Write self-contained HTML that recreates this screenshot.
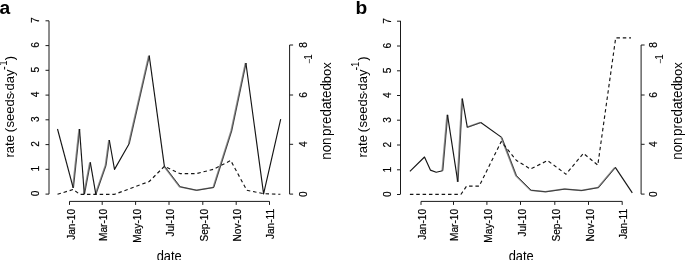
<!DOCTYPE html>
<html><head><meta charset="utf-8"><title>figure</title>
<style>
html,body{margin:0;padding:0;background:#fff;}
svg{display:block;font-family:"Liberation Sans",sans-serif;fill:#000;}

.ax{fill:none;stroke:#1a1a1a;stroke-width:1;}
.ln{fill:none;stroke:#151515;stroke-width:1.15;stroke-linejoin:round;}
.gr{fill:none;stroke:#8e8e8e;stroke-width:1.5;stroke-linejoin:round;}
.gt{fill:none;stroke:#262626;stroke-width:0.8;stroke-linejoin:round;}
.ds{stroke-dasharray:3.5 2.85;}
.tk{font-size:11.5px;stroke:#000;stroke-width:0.2px;}
</style></head><body>
<svg width="685" height="260" viewBox="0 0 685 260">
<rect width="685" height="260" fill="#fff"/>
<text x="-0.6" y="14.4" font-size="19.2" font-weight="bold">a</text>
<path d="M49,20.85V194.1M49,194.1h-3.5M49,169.3h-3.5M49,144.6h-3.5M49,119.8h-3.5M49,95.1h-3.5M49,70.3h-3.5M49,45.6h-3.5M49,20.8h-3.5" class="ax"/>
<text transform="translate(39.0,193.5) rotate(-90) scale(0.88,1)" text-anchor="middle" class="tk">0</text>
<text transform="translate(39.0,168.8) rotate(-90) scale(0.88,1)" text-anchor="middle" class="tk">1</text>
<text transform="translate(39.0,144.0) rotate(-90) scale(0.88,1)" text-anchor="middle" class="tk">2</text>
<text transform="translate(39.0,119.2) rotate(-90) scale(0.88,1)" text-anchor="middle" class="tk">3</text>
<text transform="translate(39.0,94.5) rotate(-90) scale(0.88,1)" text-anchor="middle" class="tk">4</text>
<text transform="translate(39.0,69.8) rotate(-90) scale(0.88,1)" text-anchor="middle" class="tk">5</text>
<text transform="translate(39.0,45.0) rotate(-90) scale(0.88,1)" text-anchor="middle" class="tk">6</text>
<text transform="translate(39.0,20.2) rotate(-90) scale(0.88,1)" text-anchor="middle" class="tk">7</text>
<path d="M289.6,45.0V194.1M289.6,194.1h3.5M289.6,144.3h3.5M289.6,95.0h3.5M289.6,45.0h3.5" class="ax"/>
<text transform="translate(306.5,194.1) rotate(-90) scale(0.88,1)" text-anchor="middle" class="tk">0</text>
<text transform="translate(306.5,144.3) rotate(-90) scale(0.88,1)" text-anchor="middle" class="tk">4</text>
<text transform="translate(306.5,95.0) rotate(-90) scale(0.88,1)" text-anchor="middle" class="tk">6</text>
<text transform="translate(306.5,45.0) rotate(-90) scale(0.88,1)" text-anchor="middle" class="tk">8</text>
<path d="M69.5,201.4H269.5M69.5,201.4v3.5M102.2,201.4v3.5M135.6,201.4v3.5M169.0,201.4v3.5M202.8,201.4v3.5M236.2,201.4v3.5M269.5,201.4v3.5" class="ax"/>
<text transform="translate(74.5,208.9) rotate(-90) scale(0.88,1)" text-anchor="end" class="tk">Jan-10</text>
<text transform="translate(107.2,208.9) rotate(-90) scale(0.88,1)" text-anchor="end" class="tk">Mar-10</text>
<text transform="translate(140.5,208.9) rotate(-90) scale(0.88,1)" text-anchor="end" class="tk">May-10</text>
<text transform="translate(173.9,208.9) rotate(-90) scale(0.88,1)" text-anchor="end" class="tk">Jul-10</text>
<text transform="translate(207.8,208.9) rotate(-90) scale(0.88,1)" text-anchor="end" class="tk">Sep-10</text>
<text transform="translate(241.1,208.9) rotate(-90) scale(0.88,1)" text-anchor="end" class="tk">Nov-10</text>
<text transform="translate(274.4,208.9) rotate(-90) scale(0.88,1)" text-anchor="end" class="tk">Jan-11</text>
<text transform="translate(169.2,260.5) scale(0.89,1)" text-anchor="middle" font-size="14.5">date</text>
<text transform="translate(14.3,157.5) rotate(-90) scale(0.955,1)" font-size="13.61">rate</text>
<text transform="translate(14.3,132.3) rotate(-90) scale(0.955,1)" font-size="13.61">(</text>
<text transform="translate(14.3,127.4) rotate(-90) scale(0.955,1)" font-size="13.61">seeds</text>
<text transform="translate(14.3,94.2) rotate(-90) scale(0.955,1)" font-size="13.61">·</text>
<text transform="translate(14.3,90.4) rotate(-90) scale(0.955,1)" font-size="13.61">day</text>
<text transform="translate(8.1,70.0) rotate(-90) scale(0.955,1)" font-size="12.04">-</text>
<text transform="translate(7.1,65.7) rotate(-90) scale(0.955,1)" font-size="10.05">1</text>
<text transform="translate(14.3,60.3) rotate(-90) scale(0.955,1)" font-size="13.61">)</text>
<text transform="translate(330.8,159.8) rotate(-90) scale(0.955,1)" font-size="14.03">non</text>
<text transform="translate(330.8,135.9) rotate(-90) scale(0.955,1)" font-size="14.03">predated</text>
<text transform="translate(330.8,86.2) rotate(-90) scale(0.955,1)" font-size="13.61">·</text>
<text transform="translate(330.8,83.2) rotate(-90) scale(0.955,1)" font-size="13.51">box</text>
<text transform="translate(311.9,63.8) rotate(-90) scale(0.955,1)" font-size="8.90">−</text>
<text transform="translate(311.6,59.8) rotate(-90) scale(0.955,1)" font-size="10.47">1</text>
<polyline points="73.2,187.9 79.5,129.0" class="gr" transform="translate(-0.45,0)"/>
<polyline points="73.2,187.9 79.5,129.0" class="gt" transform="translate(0.3,0)"/>
<polyline points="84.3,194.2 90.3,162.3" class="gr" transform="translate(-0.45,0)"/>
<polyline points="84.3,194.2 90.3,162.3" class="gt" transform="translate(0.3,0)"/>
<polyline points="95.8,194.2 105.8,165.5 109.3,140.0" class="gr" transform="translate(-0.45,0)"/>
<polyline points="95.8,194.2 105.8,165.5 109.3,140.0" class="gt" transform="translate(0.3,0)"/>
<polyline points="129.0,144.0 149.2,55.7" class="gr" transform="translate(-0.45,0)"/>
<polyline points="129.0,144.0 149.2,55.7" class="gt" transform="translate(0.3,0)"/>
<polyline points="164.4,166.3 180.0,186.8 196.6,190.3 213.6,187.4 231.5,131.0 245.9,63.0" class="gr" transform="translate(-0.45,0)"/>
<polyline points="164.4,166.3 180.0,186.8 196.6,190.3 213.6,187.4 231.5,131.0 245.9,63.0" class="gt" transform="translate(0.3,0)"/>
<polyline points="57.5,129.0 73.2,187.9" class="ln"/>
<polyline points="79.5,129.0 84.3,194.2" class="ln"/>
<polyline points="90.3,162.3 95.8,194.2" class="ln"/>
<polyline points="109.3,140.0 114.5,169.4 129.0,144.0" class="ln"/>
<polyline points="149.2,55.7 164.4,166.3" class="ln"/>
<polyline points="245.9,63.0 263.6,193.9 280.7,119.2" class="ln"/>
<polyline points="57.5,194.3 73.2,189.5 79.7,194.3 114.5,194.3 129.0,189.0 149.2,181.5 164.4,166.3 180.0,173.6 196.6,173.6 213.6,169.2 230.7,160.5 246.8,190.3 263.7,193.7 280.4,194.3" class="ln ds"/>
<text x="355.4" y="14.4" font-size="19.2" font-weight="bold">b</text>
<path d="M400.5,20.85V194.1M400.5,194.5h-3.5M400.5,169.8h-3.5M400.5,145.0h-3.5M400.5,120.2h-3.5M400.5,95.5h-3.5M400.5,70.8h-3.5M400.5,46.0h-3.5M400.5,21.2h-3.5" class="ax"/>
<text transform="translate(390.9,194.3) rotate(-90) scale(0.88,1)" text-anchor="middle" class="tk">0</text>
<text transform="translate(390.9,169.6) rotate(-90) scale(0.88,1)" text-anchor="middle" class="tk">1</text>
<text transform="translate(390.9,144.8) rotate(-90) scale(0.88,1)" text-anchor="middle" class="tk">2</text>
<text transform="translate(390.9,120.0) rotate(-90) scale(0.88,1)" text-anchor="middle" class="tk">3</text>
<text transform="translate(390.9,95.3) rotate(-90) scale(0.88,1)" text-anchor="middle" class="tk">4</text>
<text transform="translate(390.9,70.5) rotate(-90) scale(0.88,1)" text-anchor="middle" class="tk">5</text>
<text transform="translate(390.9,45.8) rotate(-90) scale(0.88,1)" text-anchor="middle" class="tk">6</text>
<text transform="translate(390.9,21.0) rotate(-90) scale(0.88,1)" text-anchor="middle" class="tk">7</text>
<path d="M641.1,45.0V194.1M641.1,194.1h3.5M641.1,144.3h3.5M641.1,95.0h3.5M641.1,45.0h3.5" class="ax"/>
<text transform="translate(656.8,194.1) rotate(-90) scale(0.88,1)" text-anchor="middle" class="tk">0</text>
<text transform="translate(656.8,144.3) rotate(-90) scale(0.88,1)" text-anchor="middle" class="tk">4</text>
<text transform="translate(656.8,95.0) rotate(-90) scale(0.88,1)" text-anchor="middle" class="tk">6</text>
<text transform="translate(656.8,45.0) rotate(-90) scale(0.88,1)" text-anchor="middle" class="tk">8</text>
<path d="M421.0,201.4H622.2M421.0,201.4v3.5M453.5,201.4v3.5M486.9,201.4v3.5M520.5,201.4v3.5M554.8,201.4v3.5M588.5,201.4v3.5M622.2,201.4v3.5" class="ax"/>
<text transform="translate(425.9,208.9) rotate(-90) scale(0.88,1)" text-anchor="end" class="tk">Jan-10</text>
<text transform="translate(458.4,208.9) rotate(-90) scale(0.88,1)" text-anchor="end" class="tk">Mar-10</text>
<text transform="translate(491.8,208.9) rotate(-90) scale(0.88,1)" text-anchor="end" class="tk">May-10</text>
<text transform="translate(525.5,208.9) rotate(-90) scale(0.88,1)" text-anchor="end" class="tk">Jul-10</text>
<text transform="translate(559.8,208.9) rotate(-90) scale(0.88,1)" text-anchor="end" class="tk">Sep-10</text>
<text transform="translate(593.5,208.9) rotate(-90) scale(0.88,1)" text-anchor="end" class="tk">Nov-10</text>
<text transform="translate(627.2,208.9) rotate(-90) scale(0.88,1)" text-anchor="end" class="tk">Jan-11</text>
<text transform="translate(521.2,260.5) scale(0.89,1)" text-anchor="middle" font-size="14.5">date</text>
<text transform="translate(366.6,157.5) rotate(-90) scale(0.955,1)" font-size="13.61">rate</text>
<text transform="translate(366.6,132.3) rotate(-90) scale(0.955,1)" font-size="13.61">(</text>
<text transform="translate(366.6,127.4) rotate(-90) scale(0.955,1)" font-size="13.61">seeds</text>
<text transform="translate(366.6,94.2) rotate(-90) scale(0.955,1)" font-size="13.61">·</text>
<text transform="translate(366.6,90.4) rotate(-90) scale(0.955,1)" font-size="13.61">day</text>
<text transform="translate(360.4,70.4) rotate(-90) scale(0.955,1)" font-size="12.04">-</text>
<text transform="translate(359.4,66.9) rotate(-90) scale(0.955,1)" font-size="10.05">1</text>
<text transform="translate(366.6,60.8) rotate(-90) scale(0.955,1)" font-size="13.61">)</text>
<text transform="translate(682.0,159.8) rotate(-90) scale(0.955,1)" font-size="14.03">non</text>
<text transform="translate(682.0,135.9) rotate(-90) scale(0.955,1)" font-size="14.03">predated</text>
<text transform="translate(682.0,86.2) rotate(-90) scale(0.955,1)" font-size="13.61">·</text>
<text transform="translate(682.0,83.2) rotate(-90) scale(0.955,1)" font-size="13.51">box</text>
<text transform="translate(663.4,63.8) rotate(-90) scale(0.955,1)" font-size="8.90">−</text>
<text transform="translate(663.1,59.8) rotate(-90) scale(0.955,1)" font-size="10.47">1</text>
<polyline points="442.6,170.7 447.5,114.8" class="gr" transform="translate(-0.45,0)"/>
<polyline points="442.6,170.7 447.5,114.8" class="gt" transform="translate(0.3,0)"/>
<polyline points="457.8,181.8 462.3,98.6" class="gr" transform="translate(-0.45,0)"/>
<polyline points="457.8,181.8 462.3,98.6" class="gt" transform="translate(0.3,0)"/>
<polyline points="467.3,127.3 480.8,122.5" class="gr" transform="translate(-0.45,0)"/>
<polyline points="467.3,127.3 480.8,122.5" class="gt" transform="translate(0.3,0)"/>
<polyline points="501.6,137.4 516.3,175.7 531.0,190.3 545.6,191.8 564.6,189.1 581.7,190.5 598.4,187.6 615.3,167.4" class="gr" transform="translate(-0.45,0)"/>
<polyline points="501.6,137.4 516.3,175.7 531.0,190.3 545.6,191.8 564.6,189.1 581.7,190.5 598.4,187.6 615.3,167.4" class="gt" transform="translate(0.3,0)"/>
<polyline points="409.9,171.3 424.5,157.0 430.4,170.1 436.2,172.2 442.6,170.7" class="ln"/>
<polyline points="447.5,114.8 457.8,181.8" class="ln"/>
<polyline points="462.3,98.6 467.3,127.3" class="ln"/>
<polyline points="480.8,122.5 501.6,137.4" class="ln"/>
<polyline points="615.3,167.4 632.3,192.9" class="ln"/>
<polyline points="409.9,194.3 461.0,194.3 466.6,186.1 479.2,186.1 501.2,141.6 516.5,160.5 530.3,169.0 547.6,160.6 566.0,174.2 583.4,153.3 597.8,165.1 615.7,37.8 631.0,37.8" class="ln ds"/>
</svg>
</body></html>
